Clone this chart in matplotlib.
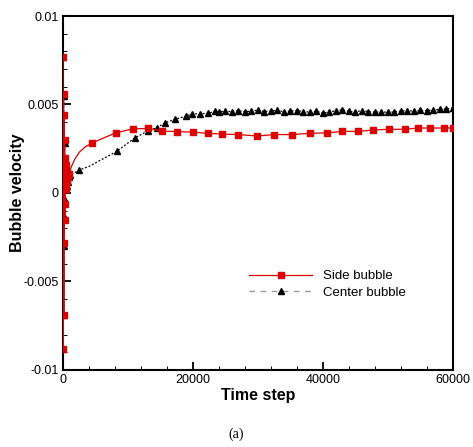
import matplotlib
matplotlib.use('Agg')
import matplotlib.pyplot as plt
from matplotlib.lines import Line2D
from matplotlib.ticker import MultipleLocator

plt.rcParams['font.family'] = ['Liberation Sans', 'DejaVu Sans']

# Side bubble (red squares)
side_t = [0, 40, 80, 120, 160, 200, 240, 280, 320, 360, 400, 450, 500, 550, 600, 700, 800, 920,
          1300, 1800, 2500, 3400, 4400, 6200, 8150, 10700, 13100, 15300, 17500, 19950,
          22250, 24400, 26950, 29900, 32450, 35200, 38000, 40650, 42900, 45350, 47750,
          50200, 52600, 54650, 56450, 58650, 60000]
side_v = [0.0077, -0.0088, 0.0056, -0.0069, 0.0044, -0.0028, 0.0030, -0.0015, 0.0020, -0.0006,
          0.0016, 0.0002, 0.0013, 0.0006, 0.0012, 0.0009, 0.0010, 0.0011,
          0.0015, 0.0019, 0.0023, 0.0026, 0.00281, 0.0031, 0.0034, 0.00362, 0.00365, 0.0035,
          0.00347, 0.00344, 0.00337, 0.00333, 0.0033, 0.00322, 0.0033, 0.0033, 0.00337, 0.0034,
          0.00348, 0.00348, 0.00356, 0.0036, 0.0036, 0.00367, 0.00367, 0.00367, 0.00368]
side_unmarked = [1300, 1800, 2500, 3400, 6200]

# Center bubble (black triangles)
center_t = [0, 40, 80, 120, 160, 200, 240, 280, 320, 360, 400, 450, 500, 560, 640, 750, 900,
            1100, 1600, 2500, 4000, 5500, 7000, 8260, 11000, 13000, 14500, 15700, 17230,
            18970, 19800, 21080, 22350, 23400,
            24000, 25000, 26000, 27000, 28000, 29000, 30000, 31000, 32000, 33000, 34000,
            35000, 36000, 37000, 38000, 39000, 40000, 41000, 42000, 43000, 44000, 45000,
            46000, 47000, 48000, 49000, 50000, 51000, 52000, 53000, 54000, 55000, 56000,
            57000, 58000, 59000, 60000]
center_v = [0.0077, -0.0088, 0.0055, -0.0069, 0.0044, -0.0030, 0.0028, -0.0014, 0.0018, -0.0004,
            0.0012, 0.0002, 0.0010, 0.0004, 0.0009, 0.0006, 0.0009, 0.0010, 0.0011, 0.0013,
            0.0015, 0.0018, 0.0021, 0.00235, 0.0031, 0.0035, 0.0037, 0.00397, 0.00416,
            0.00435, 0.00446, 0.00448, 0.0045, 0.00462,
            0.00458, 0.00462, 0.00460, 0.00465, 0.00459, 0.00463, 0.00468, 0.00460, 0.00464,
            0.00467, 0.00459, 0.00463, 0.00466, 0.00460, 0.00457, 0.00462, 0.00450, 0.00459,
            0.00464, 0.00470, 0.00461, 0.00458, 0.00466, 0.00460, 0.00456, 0.00459, 0.00455,
            0.00458, 0.00463, 0.00466, 0.00462, 0.00467, 0.00465, 0.00470, 0.00472, 0.00475,
            0.00481]
center_unmarked = [1600, 4000, 5500, 7000]

fig = plt.figure(figsize=(4.73, 4.47), dpi=100)
ax = fig.add_axes([0.1332, 0.1723, 0.8245, 0.7919])

side_marks = [i for i, t in enumerate(side_t) if t not in side_unmarked]
center_marks = [i for i, t in enumerate(center_t) if t not in center_unmarked]

ax.plot(center_t, center_v, color='black', lw=0.9, ls=(0, (1.5, 1.5)),
        marker='^', ms=5, markevery=center_marks, zorder=2)
ax.plot(side_t, side_v, color='#dd0000', lw=0.9, ls='-',
        marker='s', ms=5, markevery=side_marks, zorder=3)

ax.set_xlim(0, 60000)
ax.set_ylim(-0.01, 0.01)
ax.set_xticks([0, 20000, 40000, 60000])
ax.set_xticklabels(['0', '20000', '40000', '60000'])
ax.set_yticks([-0.01, -0.005, 0, 0.005, 0.01])
ax.set_yticklabels(['-0.01', '-0.005', '0', '0.005', '0.01'])
ax.xaxis.set_minor_locator(MultipleLocator(4000))
ax.yaxis.set_minor_locator(MultipleLocator(0.001))
ax.tick_params(which='major', direction='in', length=6, width=1.3, labelsize=9, pad=3)
ax.tick_params(which='minor', direction='in', length=3, width=0.7)
for s in ax.spines.values():
    s.set_linewidth(1.5)

ax.set_xlabel('Time step', fontsize=11.5, fontweight='bold', labelpad=1)
ax.set_ylabel('Bubble velocity', fontsize=11.5, fontweight='bold', labelpad=-1)

handles = [Line2D([], [], color='#dd0000', lw=0.9, marker='s', ms=4.5),
           Line2D([], [], color='#999999', lw=1.0, ls=(0, (4, 4)), marker='^', ms=4,
                  markerfacecolor='black', markeredgecolor='black')]
ax.legend(handles, ['Side bubble', 'Center bubble'], loc='center left',
          bbox_to_anchor=(0.477, 0.242), frameon=False, fontsize=9.5,
          handlelength=4.8, handletextpad=0.8, labelspacing=0.3,
          borderpad=0, borderaxespad=0)

fig.text(0.5, 0.028, '(a)', ha='center', va='center', fontsize=10,
         family='Liberation Serif')

fig.savefig('out.png', dpi=100)
